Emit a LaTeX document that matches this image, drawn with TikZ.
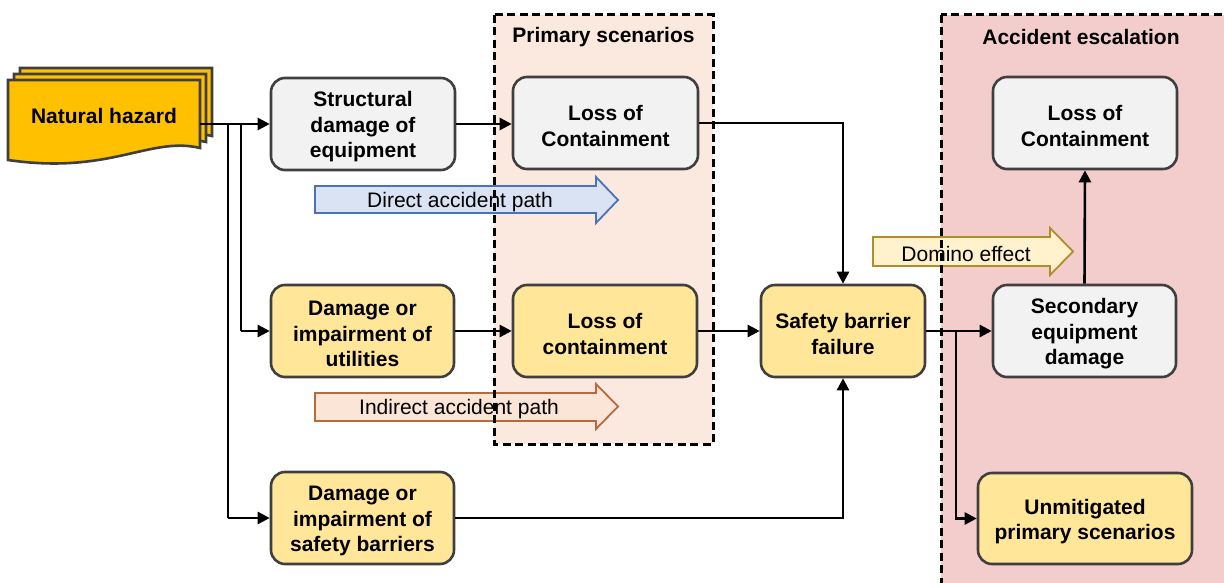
\documentclass[tikz,border=0pt]{standalone}
\usepackage{fontspec}
\setmainfont{Liberation Sans}
\usetikzlibrary{arrows.meta}
\definecolor{bordergray}{HTML}{3F3F3F}
\definecolor{boxgray}{HTML}{F2F2F2}
\definecolor{boxyellow}{HTML}{FFE699}
\definecolor{primfill}{HTML}{FBE9DF}
\definecolor{escfill}{HTML}{F3CCCC}
\definecolor{nhfill}{HTML}{FFC000}
\definecolor{dirfill}{HTML}{DAE3F3}
\definecolor{dirdraw}{HTML}{4A72B8}
\definecolor{indfill}{HTML}{FBE5D6}
\definecolor{inddraw}{HTML}{B9693E}
\definecolor{domfill}{HTML}{FFF2CC}
\definecolor{domdraw}{HTML}{B08D2A}
\newcommand\bfbig{\fontsize{21}{25.5}\selectfont\bfseries}
\newcommand\rgbig{\fontsize{21}{25.5}\selectfont}
\newcommand\tstrut{\rule{0pt}{21pt}}
\tikzset{
  box/.style={draw=bordergray, line width=2.6pt, rounded corners=14pt, align=center, font=\bfbig, inner sep=0pt},
  graybox/.style={box, fill=boxgray},
  yelbox/.style={box, fill=boxyellow},
  conn/.style={line width=2.6pt, -{Triangle[length=12pt,width=12pt]}},
  plainline/.style={line width=2.6pt},
  container/.style={draw=black, line width=3pt, dash pattern=on 8pt off 4.5pt},
  docstyle/.style={fill=nhfill, draw=bordergray, line width=2.6pt},
  bigarrow/.style={line width=1.8pt},
  arrowtext/.style={font=\rgbig, inner sep=0pt},
  titletext/.style={font=\bfbig, inner sep=0pt},
}
\newcommand\docshape[2]{%
  \filldraw[docstyle, shift={(#1,#2)}] (8,80) -- (200,80) -- (200,148)
    .. controls (150,136) and (110,175) .. (8,160) -- cycle;}
\begin{document}
\begin{tikzpicture}[x=1pt,y=-1pt]
\clip (0,0) rectangle (1224,583);
\fill[white] (0,0) rectangle (1224,583);
% container fills
\fill[primfill] (494,15) rectangle (713,444);
\fill[escfill] (941,15) rectangle (1240,600);
% big arrows
\filldraw[bigarrow, fill=dirfill, draw=dirdraw] (315,186) -- (596,186) -- (596,177) -- (618,200) -- (596,223) -- (596,213) -- (315,213) -- cycle;
\node[arrowtext] (dir) at (460,202) {Direct accident path};
\filldraw[bigarrow, fill=indfill, draw=inddraw] (315,393) -- (596,393) -- (596,384) -- (618,406.5) -- (596,429) -- (596,421) -- (315,421) -- cycle;
\node[arrowtext] (ind) at (459,409) {Indirect accident path};
\filldraw[bigarrow, fill=domfill, draw=domdraw] (873,237) -- (1050,237) -- (1050,228) -- (1073,251.5) -- (1050,275) -- (1050,266) -- (873,266) -- cycle;
\node[arrowtext] (dom) at (966,254) {Domino effect};
% container borders
\draw[container] (494,15) rectangle (713,444);
\draw[container] (941,15) rectangle (1240,600);
\node[titletext] (primt) at (603.5,37) {Primary scenarios};
\node[titletext] (esct) at (1081,37) {Accident escalation};
% natural hazard
\docshape{12}{-12}
\docshape{6}{-6}
\docshape{0}{0}
\node[titletext] (nh) at (104,116) {Natural hazard};
\coordinate (nhR) at (200,124);
% nodes
\node[graybox, minimum width=184pt, minimum height=92pt] (struct) at (363,124) {\tstrut Structural\\damage of\\equipment};
\node[graybox, minimum width=185pt, minimum height=92pt] (loc1) at (605.5,123) {\tstrut Loss of\\Containment};
\node[yelbox, minimum width=183pt, minimum height=92pt] (util) at (362.5,331) {\tstrut Damage or\\impairment of\\utilities};
\node[yelbox, minimum width=184pt, minimum height=92pt] (loc2) at (605,331) {\tstrut Loss of\\containment};
\node[yelbox, minimum width=183pt, minimum height=92pt] (sb) at (362.5,518) {\tstrut Damage or\\impairment of\\safety barriers};
\node[yelbox, minimum width=164pt, minimum height=92pt] (sbf) at (843,331) {\tstrut Safety barrier\\failure};
\node[graybox, minimum width=184pt, minimum height=92pt] (loc3) at (1085,123) {\tstrut Loss of\\Containment};
\node[graybox, minimum width=183pt, minimum height=92pt] (sec) at (1084.5,331) {\tstrut Secondary\\equipment\\damage};
\node[yelbox, minimum width=214pt, minimum height=91pt] (unm) at (1085,518.5) {\tstrut Unmitigated\\primary scenarios};
% connectors
\coordinate (b1) at (241,124);
\coordinate (b2) at (228,124);
\coordinate (b3) at (956,331);
\draw[conn] (nhR) -- (struct.west |- nhR);
\draw[plainline] (b1) -- (b1 |- util.west);
\draw[conn] (b1 |- util.west) -- (util.west);
\draw[plainline] (b2) -- (b2 |- sb.west);
\draw[conn] (b2 |- sb.west) -- (sb.west);
\draw[conn] (struct.east) -- (loc1.west |- struct.east);
\draw[conn] (util.east) -- (loc2.west);
\draw[conn] (loc1.east) -| (sbf.north);
\draw[conn] (loc2.east) -- (sbf.west);
\draw[conn] (sb.east) -| (sbf.south);
\draw[conn] (sbf.east) -- (sec.west);
\draw[conn] (b3) |- (unm.west);
\draw[conn] (sec.north) -- (loc3.south);
\end{tikzpicture}
\end{document}
